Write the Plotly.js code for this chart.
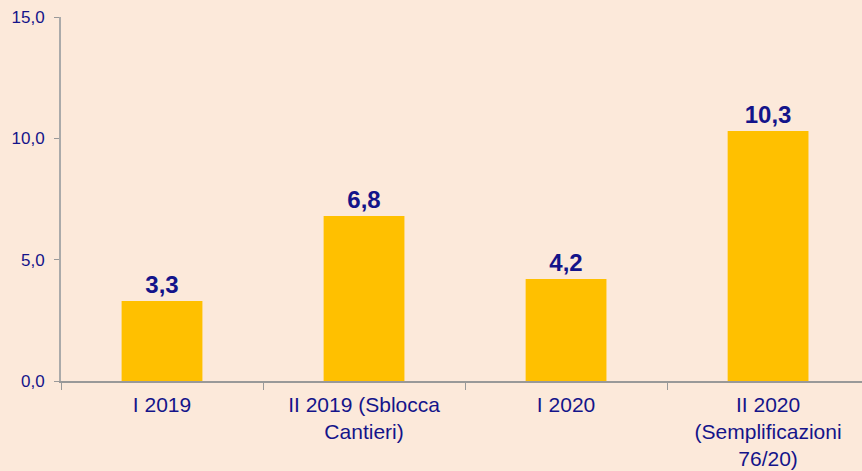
<!DOCTYPE html>
<html><head><meta charset="utf-8">
<script src="https://cdn.plot.ly/plotly-3.0.1.min.js"></script>
<style>html,body{margin:0;padding:0;background:#FCE9DA;overflow:hidden}</style>
</head><body><div id="chart" style="width:862px;height:471px"></div>
<script>
const categories = ["I 2019", "II 2019 (Sblocca<br>Cantieri)", "I 2020", "II 2020<br>(Semplificazioni<br>76/20)"];
const values = [3.3, 6.8, 4.2, 10.3];
const valueLabels = ["3,3", "6,8", "4,2", "10,3"];
const navy = "#14148A";
const fam = "Liberation Sans";
Plotly.newPlot("chart", [{
  type: "bar",
  x: categories,
  y: values,
  text: valueLabels,
  textposition: "outside",
  textfont: {family: fam, size: 24, color: navy, weight: "bold"},
  cliponaxis: false,
  marker: {color: "#FFC000"},
  width: 0.4,
  hoverinfo: "none"
}], {
  width: 862, height: 471,
  margin: {l: 61, r: 0, t: 17, b: 90},
  paper_bgcolor: "#FCE9DA",
  plot_bgcolor: "#FCE9DA",
  separators: ",.",
  showlegend: false,
  xaxis: {
    type: "category",
    range: [-0.5, 3.465],
    tickson: "boundaries",
    ticks: "outside", ticklen: 7, tickcolor: "#999999", tickwidth: 1,
    showline: true, linecolor: "#999999", linewidth: 1.5,
    showgrid: false, zeroline: false,
    tickangle: 0,
    ticklabelstandoff: 4,
    tickfont: {family: fam, size: 21, color: navy}
  },
  yaxis: {
    range: [0, 15], dtick: 5, tick0: 0, tickformat: ".1f",
    ticks: "outside", ticklen: 5, tickcolor: "#999999",
    showline: true, linecolor: "#AAAAAA", linewidth: 2,
    showgrid: false, zeroline: false,
    ticklabelstandoff: 6,
    tickfont: {family: fam, size: 17, color: navy}
  }
}, {staticPlot: true});
</script></body></html>
